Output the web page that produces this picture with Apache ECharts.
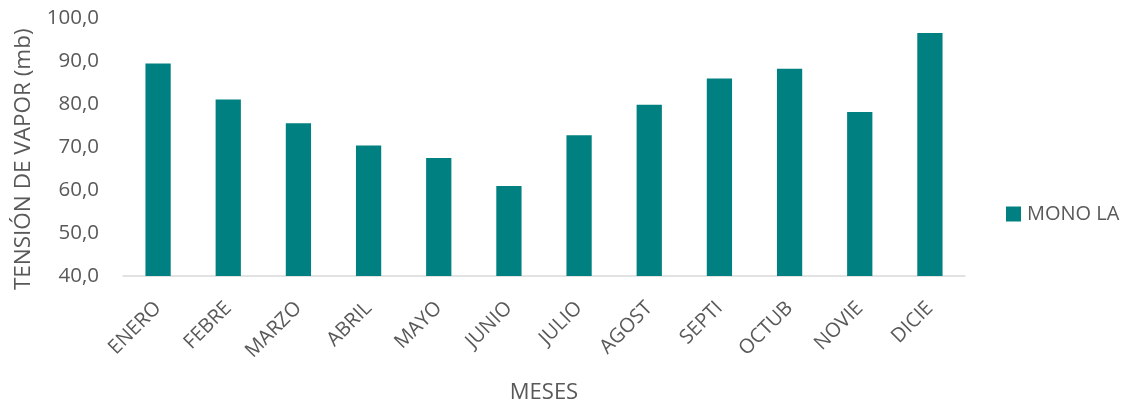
<!DOCTYPE html>
<html>
<head>
<meta charset="utf-8">
<script src="https://cdn.jsdelivr.net/npm/echarts@6/dist/echarts.min.js"></script>
<style>
  html, body { margin: 0; padding: 0; background: #ffffff; }
  #chart { width: 1127px; height: 404px; }
</style>
</head>
<body>
<div id="chart"></div>
<script>
// Monthly vapour pressure (mb)
const meses = ['ENERO', 'FEBRE', 'MARZO', 'ABRIL', 'MAYO', 'JUNIO',
               'JULIO', 'AGOST', 'SEPTI', 'OCTUB', 'NOVIE', 'DICIE'];
const monoLa = [89.5, 81.1, 75.6, 70.4, 67.5, 61.0,
                72.8, 79.9, 86.0, 88.3, 78.2, 96.6];
const serieNombre = 'MONO LA';

const FONT = '"Open Sans", "Liberation Sans", sans-serif';
const GRIS = '#595959';
const TEAL = '#008080';

const chart = echarts.init(document.getElementById('chart'), null, { renderer: 'canvas' });
chart.setOption({
  animation: false,
  textStyle: { fontFamily: FONT, color: GRIS },
  grid: {
    left: 123, right: 162, top: 18.5, bottom: 128,
    containLabel: false,
    outerBoundsMode: 'none'
  },
  legend: {
    data: [serieNombre],
    orient: 'vertical',
    left: 1006,
    top: 204,
    padding: 0,
    itemWidth: 15,
    itemHeight: 15,
    itemGap: 6,
    icon: 'rect',
    textStyle: { fontFamily: FONT, fontSize: 20, color: GRIS, padding: [0, 0, 0, 1] }
  },
  xAxis: {
    type: 'category',
    data: meses,
    name: 'MESES',
    nameLocation: 'middle',
    nameGap: 106,
    nameTextStyle: { fontFamily: FONT, fontSize: 22, color: GRIS },
    axisLine: { lineStyle: { color: '#D9D9D9', width: 1.5 } },
    axisTick: { show: false },
    axisLabel: {
      rotate: 45,
      margin: 29,
      interval: 0,
      fontFamily: FONT,
      fontSize: 20,
      color: GRIS
    }
  },
  yAxis: {
    type: 'value',
    min: 40,
    max: 100,
    interval: 10,
    name: 'TENSIÓN DE VAPOR (mb)',
    nameLocation: 'middle',
    nameGap: 88,
    nameTextStyle: { fontFamily: FONT, fontSize: 22.5, color: GRIS, padding: [0, 24, 0, 0] },
    splitLine: { show: false },
    axisLine: { show: false },
    axisTick: { show: false },
    axisLabel: {
      margin: 24,
      fontFamily: FONT,
      fontSize: 20.5,
      color: GRIS,
      formatter: v => v.toFixed(1).replace('.', ',')
    }
  },
  series: [{
    name: serieNombre,
    type: 'bar',
    data: monoLa,
    barWidth: '36%',
    itemStyle: { color: TEAL }
  }]
});
</script>
</body>
</html>
